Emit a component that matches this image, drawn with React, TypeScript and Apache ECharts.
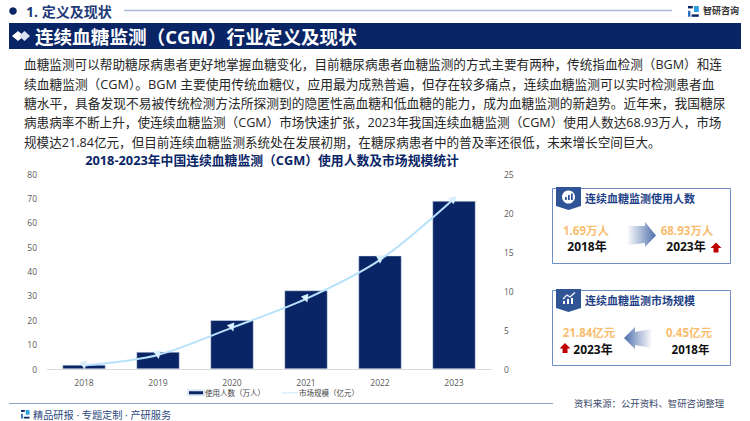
import React, { useEffect, useRef } from "react";
import * as echarts from "echarts";

const years = ["2018", "2019", "2020", "2021", "2022", "2023"];
const users = [1.69, 7, 20, 32.2, 46.5, 68.93];
const market = [0.45, 1.8, 5.3, 9, 14, 21.84];
const markerRotation = [190, 190, 200, 200, 180, -50];
const paragraph = [
  "血糖监测可以帮助糖尿病患者更好地掌握血糖变化，目前糖尿病患者血糖监测的方式主要有两种，传统指血检测（BGM）和连",
  "续血糖监测（CGM）。BGM 主要使用传统血糖仪，应用最为成熟普遍，但存在较多痛点，连续血糖监测可以实时检测患者血",
  "糖水平，具备发现不易被传统检测方法所探测到的隐匿性高血糖和低血糖的能力，成为血糖监测的新趋势。近年来，我国糖尿",
  "病患病率不断上升，使连续血糖监测（CGM）市场快速扩张，2023年我国连续血糖监测（CGM）使用人数达68.93万人，市场",
  "规模达21.84亿元，但目前连续血糖监测系统处在发展初期，在糖尿病患者中的普及率还很低，未来增长空间巨大。",
];
const lineStretch = [1.003, 1.01, 1.013, 1.001, 1];
const F = '"Open Sans", "Noto Sans CJK SC", sans-serif';
const NAVY = "#0a2566";
const ORANGE = "#f9bd6f";
const BORDER = "#6f8fc4";

const t = (x: number, y: number, text: string, fontSize: number, fill: string, fontWeight: any = "normal", align: any = "left") => ({
  type: "text", x, y, style: { text, fontSize, fill, fontWeight, fontFamily: F, align, verticalAlign: "middle" },
});
const arrowGrad = (toRight: boolean) => ({
  type: "linear", x: 0, y: 0, x2: 1, y2: 0,
  colorStops: toRight
    ? [{ offset: 0, color: "rgba(90,120,175,0.05)" }, { offset: 1, color: "#4a6cab" }]
    : [{ offset: 0, color: "#4a6cab" }, { offset: 1, color: "rgba(90,120,175,0.05)" }],
});
const upArrow = (x: number, y: number) => ({
  type: "polygon",
  shape: { points: [[x, y - 5], [x + 5.5, y + 0.5], [x + 2.5, y + 0.5], [x + 2.5, y + 5], [x - 2.5, y + 5], [x - 2.5, y + 0.5], [x - 5.5, y + 0.5]] },
  style: { fill: "#c00000" },
});
const badge = (x: number, y: number) => ({
  type: "polygon",
  shape: { points: [[x, y], [x + 25, y], [x + 25, y + 19], [x + 12.5, y + 23], [x, y + 19]] },
  style: { fill: "#2f5597" },
});
const logo = (x: number, y: number, s: number) => [
  { type: "rect", shape: { x, y, width: 4 * s, height: 2 * s }, style: { fill: NAVY } },
  { type: "rect", shape: { x, y: y + 4 * s, width: 2 * s, height: 5 * s }, style: { fill: "#2f6fc0" } },
  { type: "rect", shape: { x: x + 5 * s, y, width: 4 * s, height: 5 * s }, style: { fill: "#2aa0e0" } },
  { type: "rect", shape: { x: x + 3 * s, y: y + 7 * s, width: 6 * s, height: 2 * s }, style: { fill: NAVY } },
];

export default function App() {
  const ref = useRef<HTMLDivElement>(null);
  useEffect(() => {
    const chart = echarts.init(ref.current!, undefined, { renderer: "svg" });
    chart.setOption({
      animation: false,
      backgroundColor: "#ffffff",
      textStyle: { fontFamily: F },
      title: {
        text: "2018-2023年中国连续血糖监测（CGM）使用人数及市场规模统计",
        left: 267, top: 149, textAlign: "center",
        textStyle: { fontSize: 12.8, fontWeight: "bold", color: NAVY, fontFamily: F },
      },
      grid: { left: 47, right: 259, top: 174, bottom: 52 },
      legend: {
        left: 187, top: 389, padding: 0, itemGap: 17, itemWidth: 16, itemHeight: 5,
        textStyle: { fontSize: 7.5, color: "#404040", fontFamily: F, padding: [0, 0, 0, -4] },
        data: [
          { name: "使用人数（万人）", icon: "rect" },
          { name: "市场规模（亿元）", icon: "path://M0 45H100V55H0Z" },
        ],
      },
      xAxis: {
        type: "category", data: years,
        axisLine: { lineStyle: { color: "#d9d9d9" } },
        axisTick: { show: false },
        axisLabel: { fontSize: 8.5, color: "#595959", margin: 9 },
      },
      yAxis: [
        {
          type: "value", min: 0, max: 80, interval: 10,
          axisLine: { show: false }, axisTick: { show: false }, splitLine: { show: false },
          axisLabel: { fontSize: 8.5, color: "#595959", margin: 10 },
        },
        {
          type: "value", min: 0, max: 25, interval: 5,
          axisLine: { show: false }, axisTick: { show: false }, splitLine: { show: false },
          axisLabel: { fontSize: 8.5, color: "#595959", margin: 13 },
        },
      ],
      series: [
        {
          name: "使用人数（万人）", type: "bar", data: users, barWidth: 43,
          itemStyle: { color: NAVY, borderColor: "#dfe6f3", borderWidth: 0.5 },
        },
        {
          name: "市场规模（亿元）", type: "line", yAxisIndex: 1,
          data: market.map((value, i) => ({ value, symbolRotate: markerRotation[i] })),
          smooth: 0.3,
          symbol: "triangle", symbolSize: 8, showSymbol: true,
          lineStyle: { color: "#b8e2fb", width: 2 },
          itemStyle: { color: "#d8effc" },
        },
      ],
      graphic: [
        // top heading
        { type: "circle", shape: { cx: 13, cy: 11, r: 3.8 }, style: { fill: NAVY } },
        t(26, 11.5, "1. 定义及现状", 14, "#1f3a78", "bold"),
        { type: "line", shape: { x1: 124, y1: 10.5, x2: 672, y2: 10.5 }, style: { stroke: "#a9b9d8", lineWidth: 1.3 } },
        ...logo(688, 6, 1.2),
        t(703, 10.5, "智研咨询", 9, "#333333", "bold"),
        // banner
        { type: "rect", shape: { x: 9, y: 23, width: 732, height: 26 }, style: { fill: NAVY } },
        { type: "polygon", shape: { points: [[12, 36], [18, 31], [24, 36], [18, 41]] }, style: { fill: "#ffffff" } },
        { type: "polygon", shape: { points: [[19, 36], [24.5, 31], [30, 36], [24.5, 41]] }, style: { fill: "#dbe3f2" } },
        t(35, 36, "连续血糖监测（CGM）行业定义及现状", 18.6, "#ffffff", "bold"),
        // paragraph
        ...paragraph.map((line, i) => ({
          ...t(0, 0, line, 12.6, "#262626"),
          x: 24, y: 65 + i * 19.25, scaleX: lineStretch[i],
        })),
        // card 1
        { type: "rect", shape: { x: 552.5, y: 188.5, width: 178, height: 75 }, style: { fill: "#fff", stroke: BORDER, lineWidth: 1 } },
        badge(556, 187),
        { type: "circle", shape: { cx: 568.5, cy: 197, r: 6.5 }, style: { fill: "#ffffff" } },
        { type: "rect", shape: { x: 565, y: 197, width: 1.8, height: 3 }, style: { fill: "#2f5597" } },
        { type: "rect", shape: { x: 568, y: 195, width: 1.8, height: 5 }, style: { fill: "#2f5597" } },
        { type: "rect", shape: { x: 571, y: 193.5, width: 1.8, height: 6.5 }, style: { fill: "#2f5597" } },
        t(585, 198, "连续血糖监测使用人数", 11, "#1f3f86", "bold"),
        t(586, 230, "1.69万人", 11.5, ORANGE, "bold", "center"),
        t(587, 246.5, "2018年", 12, "#111111", "bold", "center"),
        {
          type: "polygon",
          shape: { points: [[628, 226], [645, 226], [645, 222], [656, 235.5], [645, 247], [645, 243], [628, 245]] },
          style: { fill: arrowGrad(true) },
        },
        t(687, 230, "68.93万人", 11.5, ORANGE, "bold", "center"),
        t(686, 246.5, "2023年", 12, "#111111", "bold", "center"),
        upArrow(716, 247.5),
        // card 2
        { type: "rect", shape: { x: 552.5, y: 290.5, width: 178, height: 75 }, style: { fill: "#fff", stroke: BORDER, lineWidth: 1 } },
        badge(556, 289),
        { type: "polyline", shape: { points: [[563, 299], [567, 295], [570, 297], [575, 292.5]] }, style: { stroke: "#fff", lineWidth: 1.2, fill: "none" } },
        { type: "rect", shape: { x: 563, y: 301, width: 2, height: 3 }, style: { fill: "#fff" } },
        { type: "rect", shape: { x: 567, y: 299, width: 2, height: 5 }, style: { fill: "#fff" } },
        { type: "rect", shape: { x: 571, y: 298, width: 2, height: 6 }, style: { fill: "#fff" } },
        t(585, 300, "连续血糖监测市场规模", 11, "#1f3f86", "bold"),
        t(589, 332, "21.84亿元", 11.5, ORANGE, "bold", "center"),
        t(593, 349, "2023年", 12, "#111111", "bold", "center"),
        upArrow(565, 348),
        {
          type: "polygon",
          shape: { points: [[651, 329], [635, 332], [635, 327], [624, 338], [635, 349], [635, 345], [651, 348]] },
          style: { fill: arrowGrad(false) },
        },
        t(689, 332, "0.45亿元", 11.5, ORANGE, "bold", "center"),
        t(690.5, 349, "2018年", 11.5, "#111111", "bold", "center"),
        // footer
        { type: "line", shape: { x1: 9, y1: 403.5, x2: 553, y2: 403.5 }, style: { stroke: "#8ea3c9", lineWidth: 1 } },
        t(574, 403, "资料来源：公开资料、智研咨询整理", 9.4, "#3a4a6b"),
        ...logo(21, 410, 0.95),
        t(33, 415, "精品研报 · 专题定制 · 产研服务", 10.2, "#2f4a80"),
      ],
    });
    return () => chart.dispose();
  }, []);
  return <div ref={ref} style={{ position: "fixed", left: 0, top: 0, width: 750, height: 421 }} />;
}
